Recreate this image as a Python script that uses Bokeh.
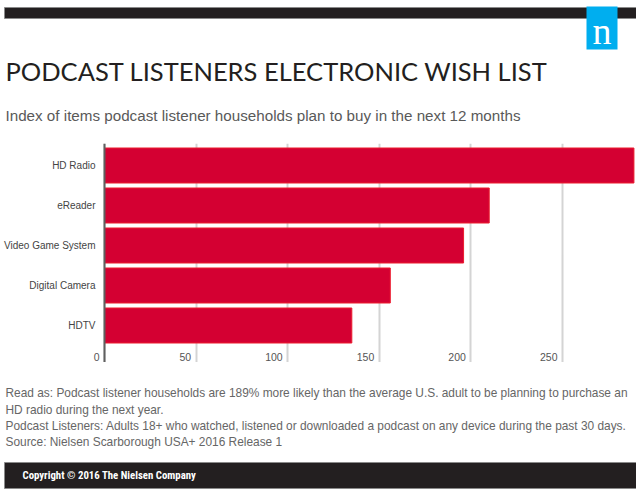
from bokeh.plotting import figure
from bokeh.models import Range1d, ColumnDataSource, Span, FixedTicker, Grid
from bokeh.layouts import column
from bokeh.embed import file_html
from bokeh.resources import INLINE
from bokeh.core.properties import value

# ---------------- data ----------------
categories = ["HD Radio", "eReader", "Video Game System", "Digital Camera", "HDTV"]
index_values = [289, 210, 196, 156, 135]
x_ticks = [0, 50, 100, 150, 200, 250]
x_tick_labels = ["0", "50", "100", "150", "200", "250"]

title_text = "PODCAST LISTENERS ELECTRONIC WISH LIST"
subtitle_text = "Index of items podcast listener households plan to buy in the next 12 months"
note_lines = [
    "Read as: Podcast listener households are 189% more likely than the average U.S. adult to be planning to purchase an",
    "HD radio during the next year.",
    "Podcast Listeners: Adults 18+ who watched, listened or downloaded a podcast on any device during the past 30 days.",
    "Source: Nielsen Scarborough USA+ 2016 Release 1",
]
copyright_text = "Copyright \u00a9 2016 The Nielsen Company"

W = 636
DARK = "#231f20"
RED = "#d40032"
SANS = "'Liberation Sans', Arial, sans-serif"


def blank(h):
    f = figure(width=W, height=h, x_range=Range1d(0, W), y_range=Range1d(h, 0),
               output_backend="svg", toolbar_location=None,
               x_axis_type=None, y_axis_type=None, min_border=0)
    f.outline_line_color = None
    return f


# ---------------- header ----------------
H1 = 143
head = blank(H1)
head.quad(left=[4], right=[W + 2], top=[7], bottom=[18], fill_color=DARK, line_color="#8a8a8a", line_width=1)
head.quad(left=[586], right=[617], top=[6], bottom=[49], fill_color="#00aeef", line_color=None)
head.text(x=[601.5], y=[30], text=["n"], text_color="white", text_align="center",
          text_baseline="middle", text_font=value("'Liberation Serif', serif"),
          text_font_size="38px")
head.text(x=[5], y=[70], text=[title_text], text_color=DARK, text_align="left",
          text_baseline="middle", text_font=value("Lato"), text_font_size="25.5px")
head.text(x=[5], y=[114.5], text=[subtitle_text], text_color="#595959", text_align="left",
          text_baseline="middle", text_font=value(SANS), text_font_size="15.2px")

# ---------------- main chart ----------------
ys = list(range(len(categories)))[::-1]
src = ColumnDataSource(dict(y=ys, v=index_values, cat=categories))
tick_src = ColumnDataSource(dict(x=x_ticks, lab=x_tick_labels, y=[-0.78] * len(x_ticks)))

H2 = 219
p = figure(width=W, height=H2, x_range=Range1d(-56.77, 290.4), y_range=Range1d(-0.925, 4.55),
           output_backend="svg", toolbar_location=None, x_axis_type=None, y_axis_type=None,
           min_border=0)
p.outline_line_color = None
p.add_layout(Grid(dimension=0, ticker=FixedTicker(ticks=x_ticks),
                  grid_line_color="#d4d4d4", grid_line_width=2))
p.hbar(y="y", right="v", left=0, height=0.875, source=src,
       fill_color=RED, line_color="#ec1c2e", line_width=1)
p.add_layout(Span(location=0, dimension="height", line_color="#5f5f5f", line_width=2))
p.text(x=0, y="y", text="cat", source=src, x_offset=-9,
       text_align="right", text_baseline="middle",
       text_font=value(SANS), text_font_size="10px", text_color="#444444")
p.text(x="x", y="y", text="lab", source=tick_src, x_offset=-5,
       text_align="right", text_baseline="middle",
       text_font=value(SANS), text_font_size="10.5px", text_color="#555555")

# ---------------- footer ----------------
H3 = 490 - H1 - H2
foot = blank(H3)
foot.text(x=[5] * len(note_lines), y=[30.5, 47, 63.8, 79.8], text=note_lines, text_color="#666666",
          text_align="left", text_baseline="middle", text_font=value(SANS),
          text_font_size="11.9px")
foot.quad(left=[4], right=[W + 2], top=[100], bottom=[126], fill_color=DARK, line_color="#8a8a8a", line_width=1)
foot.text(x=[22], y=[112.5], text=[copyright_text], text_color="white", text_align="left",
          text_baseline="middle",
          text_font=value("'Liberation Sans Narrow', 'Roboto Condensed', 'Liberation Sans', sans-serif"),
          text_font_style="bold", text_font_size="10.8px")

layout = column(head, p, foot, spacing=0)
open("out.html", "w").write(file_html(layout, INLINE))
